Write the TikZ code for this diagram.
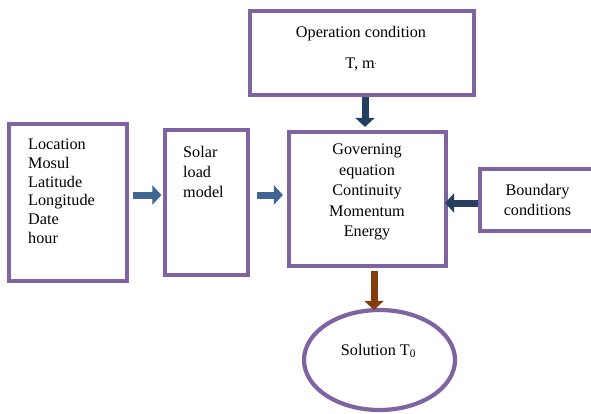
\documentclass[tikz,border=0pt]{standalone}
\usepackage{fontspec}
\setmainfont{Liberation Serif}[Ligatures=TeX]
\newfontfamily\tnr{Liberation Serif}
\usetikzlibrary{arrows.meta,shapes.geometric}
\definecolor{boxpurple}{HTML}{8064A2}
\definecolor{steelarrow}{HTML}{3F6594}
\definecolor{navyarrow}{HTML}{243F60}
\definecolor{brownarrow}{HTML}{843C0C}
\begin{document}
\begin{tikzpicture}[x=1pt,y=-1pt,
  box/.style={draw=boxpurple,line width=4.2pt,rectangle,inner sep=0pt},
  ovalbox/.style={draw=boxpurple,line width=4.2pt,ellipse,inner sep=0pt},
  txt/.style={inner sep=0pt,font=\tnr\fontsize{16.2}{19}\selectfont},
  arr/.style={line width=7pt,-{Triangle[length=9pt,width=19pt]}},
]
\useasboundingbox (0,0) rectangle (591,414);
\clip (0,0) rectangle (591,414);

% boxes
\node[box,minimum width=224pt,minimum height=84pt] (op) at (362,53) {};
\node[box,minimum width=118pt,minimum height=157pt] (loc) at (68,202.5) {};
\node[box,minimum width=83pt,minimum height=145pt] (solar) at (206.5,202.5) {};
\node[box,minimum width=157pt,minimum height=134pt] (gov) at (367.5,199) {};
\node[box,minimum width=118pt,minimum height=62pt] (bnd) at (539,200) {};
\node[ovalbox,minimum width=151pt,minimum height=100pt] (sol) at (379.5,360) {};

% texts
\node[txt,anchor=north,align=center] (opT) at (361,26)
  {Operation condition\\[12.5pt]T, m\raisebox{4pt}{\tnr\fontsize{8}{8}\selectfont .}};
\node[txt,anchor=north west,align=left,font=\tnr\fontsize{16.2}{18.8}\selectfont] (locT) at (28,138.5)
  {Location\\Mosul\\Latitude\\Longitude\\Date\\hour};
\node[txt,anchor=north west,align=left,font=\tnr\fontsize{16.2}{20}\selectfont] (solarT) at (183,146)
  {Solar\\load\\model};
\node[txt,anchor=north,align=center,font=\tnr\fontsize{16.2}{20.4}\selectfont] (govT) at (367,144)
  {Governing\\equation\\Continuity\\Momentum\\Energy};
\node[txt,anchor=north,align=center,font=\tnr\fontsize{16.2}{20}\selectfont] (bndT) at (537.5,184)
  {Boundary\\conditions};
\node[txt,anchor=base] (solT) at (378.5,355) {Solution T\textsubscript{0}};

% connectors
\draw[arr,draw=steelarrow,fill=steelarrow,shorten <=4pt,shorten >=1.5pt]
  (loc.east |- 0,195) -- (solar.west |- 0,195);
\draw[arr,draw=steelarrow,fill=steelarrow,shorten <=7pt,shorten >=4pt]
  (solar.east |- 0,195) -- (gov.west |- 0,195);
\draw[arr,draw=navyarrow,fill=navyarrow,shorten >=3pt]
  (365,0 |- op.south) -- (365,0 |- gov.north);
\draw[arr,draw=navyarrow,fill=navyarrow,shorten >=-3pt]
  (bnd.west |- 0,203) -- (gov.east |- 0,203);
\draw[arr,draw=brownarrow,fill=brownarrow,shorten <=3pt,shorten >=-2pt]
  (374,0 |- gov.south) -- (374,0 |- sol.north);
\end{tikzpicture}
\end{document}
